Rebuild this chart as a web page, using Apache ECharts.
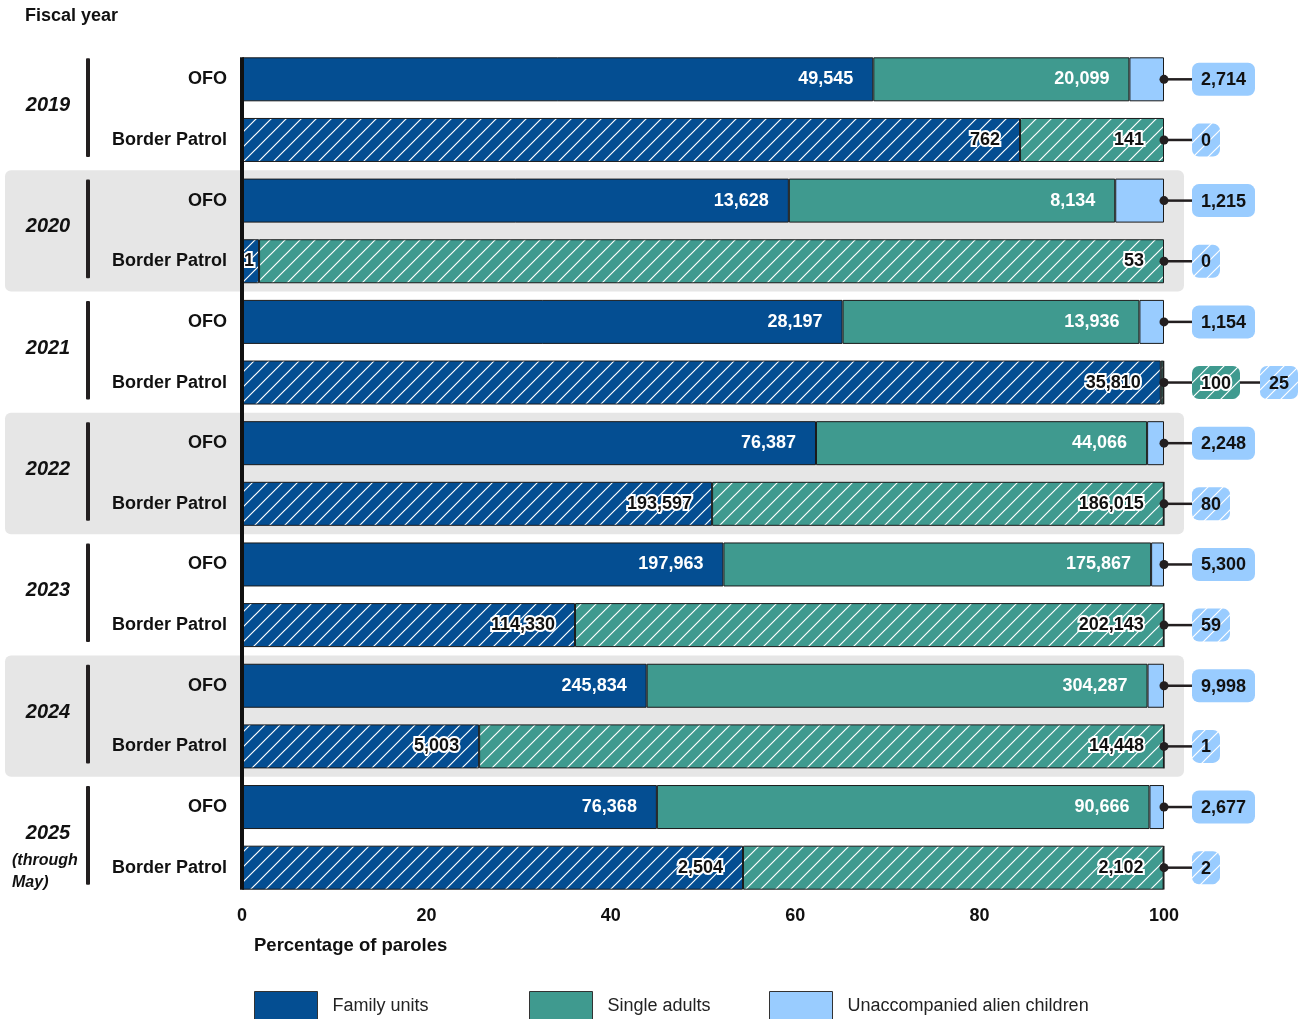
<!DOCTYPE html>
<html>
<head>
<meta charset="utf-8">
<title>Paroles by fiscal year</title>
<script src="https://cdn.jsdelivr.net/npm/echarts@6/dist/echarts.min.js"></script>
<style>
    html, body {margin: 0; padding: 0; background: #fff;}
    #main {width: 1310px; height: 1019px;}
</style>
</head>
<body>
<div id="main"></div>
<script>
    // chart values
    var years = ['2019', '2020', '2021', '2022', '2023', '2024', '2025'];
    var components = ['OFO', 'Border Patrol'];
    var shadedYears = ['2020', '2022', '2024'];
    var xTicks = [0, 20, 40, 60, 80, 100];

    var familyOFO = [49545, 13628, 28197, 76387, 197963, 245834, 76368];
    var singleOFO = [20099, 8134, 13936, 44066, 175867, 304287, 90666];
    var uacOFO = [2714, 1215, 1154, 2248, 5300, 9998, 2677];

    var familyBP = [762, 1, 35810, 193597, 114330, 5003, 2504];
    var singleBP = [141, 53, 100, 186015, 202143, 14448, 2102];
    var uacBP = [0, 0, 25, 80, 59, 1, 2];

    var FONT = '"Liberation Sans", Arial, sans-serif';
    var C_FAMILY = '#044e92';
    var C_SINGLE = '#3f9a8f';
    var C_UAC = '#99ccff';
    var INK = '#231f20';

    /** diagonal white hatch on a base colour */
    function hatch(base) {
        var s = 15;
        var c = document.createElement('canvas');
        c.width = s;
        c.height = s;
        var ctx = c.getContext('2d');
        ctx.fillStyle = base;
        ctx.fillRect(0, 0, s, s);
        ctx.strokeStyle = '#ffffff';
        ctx.lineWidth = 1.2;
        ctx.beginPath();
        ctx.moveTo(-1, s + 1); ctx.lineTo(s + 1, -1);
        ctx.moveTo(-1, 1); ctx.lineTo(1, -1);
        ctx.moveTo(s - 1, s + 1); ctx.lineTo(s + 1, s - 1);
        ctx.stroke();
        return {image: c, repeat: 'repeat'};
    }

    var measureCtx = document.createElement('canvas').getContext('2d');
    function textWidth(str) {
        measureCtx.font = 'bold 18px ' + FONT;
        return measureCtx.measureText(str).width;
    }

    function fmt(n) {
        return echarts.format.addCommas(n);
    }

    function merge(a, b) {
        return echarts.util.merge(echarts.util.clone(a), b, true);
    }

    // one row per component per year
    var rows = [];
    var categories = [];
    years.forEach(function (y, i) {
        rows.push({year: y, family: familyOFO[i], single: singleOFO[i], uac: uacOFO[i], hatched: false});
        rows.push({year: y, family: familyBP[i], single: singleBP[i], uac: uacBP[i], hatched: true});
        categories.push(components[0], components[1]);
    });
    rows.forEach(function (r) {
        r.total = r.family + r.single + r.uac;
    });

    function labelFor(row, share) {
        var l = row.hatched
            ? {color: '#111', textBorderColor: '#fff', textBorderWidth: 4}
            : {color: '#fff', textBorderWidth: 0};
        if (share < 1) {
            l.show = false;
        } else if (share < 5) {
            l.position = 'insideLeft';
            l.distance = 2;
        }
        return l;
    }

    var patFamily = hatch(C_FAMILY), patSingle = hatch(C_SINGLE), patUac = hatch(C_UAC);

    var familyData = rows.map(function (r) {
        var share = r.family / r.total * 100;
        return {value: share, count: r.family, label: labelFor(r, share),
            itemStyle: r.hatched ? {color: patFamily} : {}};
    });
    var singleData = rows.map(function (r) {
        var share = r.single / r.total * 100;
        return {value: share, count: r.single, label: labelFor(r, share),
            itemStyle: r.hatched ? {color: patSingle} : {}};
    });
    var uacData = rows.map(function (r) {
        if (!r.uac) {
            return '-';
        }
        return {value: r.uac / r.total * 100, count: r.uac,
            itemStyle: r.hatched ? {color: patUac} : {}};
    });

    // right-hand boxes
    rows.forEach(function (r) {
        r.boxes = [];
        if (r.single / r.total * 100 < 1) {
            r.boxes.push({text: fmt(r.single), fill: r.hatched ? patSingle : C_SINGLE, halo: true});
        }
        r.boxes.push({text: fmt(r.uac), fill: r.hatched ? patUac : C_UAC, halo: false});
    });

    function renderBoxes(params, api) {
        var row = rows[params.dataIndex];
        var p = api.coord([100, params.dataIndex]);
        var x = p[0], y = p[1];
        var lines = [], boxes = [];
        var cursor = x;
        row.boxes.forEach(function (b, k) {
            var bx = cursor + (k === 0 ? 28 : 20);
            var w = Math.round(textWidth(b.text) + 18);
            lines.push({
                type: 'line',
                shape: {x1: cursor, y1: y, x2: bx, y2: y},
                style: {stroke: INK, lineWidth: 2.5}
            });
            boxes.push({
                type: 'rect',
                shape: {x: bx, y: y - 16.5, width: w, height: 33, r: 7},
                style: {fill: b.fill}
            });
            boxes.push({
                type: 'text',
                x: bx + w / 2,
                y: y + 1,
                style: {
                    text: b.text, font: 'bold 18px ' + FONT, fill: '#111',
                    align: 'center', verticalAlign: 'middle',
                    stroke: b.halo ? '#fff' : null, lineWidth: b.halo ? 4 : 0
                }
            });
            cursor = bx + w;
        });
        var dot = {type: 'circle', shape: {cx: x, cy: y, r: 4.5}, style: {fill: INK}};
        return {type: 'group', children: lines.concat(boxes, [dot])};
    }

    var barBase = {
        type: 'bar',
        stack: 'total',
        barWidth: 44,
        itemStyle: {borderColor: '#1a1a1a', borderWidth: 1},
        label: {
            show: true,
            position: 'insideRight',
            distance: 20,
            fontFamily: FONT,
            fontWeight: 'bold',
            fontSize: 18,
            formatter: function (p) {
                return fmt(p.data.count);
            }
        }
    };

    var legendBase = {
        top: 991, padding: 0, itemWidth: 63, itemHeight: 30, icon: 'rect', itemGap: 0,
        itemStyle: {borderColor: '#333', borderWidth: 1},
        textStyle: {fontFamily: FONT, fontSize: 18, color: '#222', padding: [0, 0, 0, 10]},
        selectedMode: false
    };

    var chart = echarts.init(document.getElementById('main'));
    var option = {
        animation: false,
        backgroundColor: '#fff',
        title: [
            {text: 'Fiscal year', left: 25, top: 7, padding: 0,
                textStyle: {fontFamily: FONT, fontSize: 18, fontWeight: 'bold', color: '#111'}},
            {text: 'Percentage of paroles', left: 254, top: 936, padding: 0,
                textStyle: {fontFamily: FONT, fontSize: 18.5, fontWeight: 'bold', color: '#111'}}
        ],
        legend: [
            merge(legendBase, {left: 254, data: ['Family units']}),
            merge(legendBase, {left: 529, data: ['Single adults']}),
            merge(legendBase, {left: 769, data: ['Unaccompanied alien children']})
        ],
        grid: {left: 242, right: 146, top: 49, bottom: 121, containLabel: false},
        xAxis: {
            type: 'value',
            min: xTicks[0],
            max: xTicks[xTicks.length - 1],
            interval: xTicks[1] - xTicks[0],
            axisLine: {show: false},
            axisTick: {show: false},
            splitLine: {show: false},
            axisLabel: {fontFamily: FONT, fontSize: 18, fontWeight: 'bold', color: '#111', margin: 9}
        },
        yAxis: {
            type: 'category',
            data: categories,
            inverse: true,
            axisLine: {show: false},
            axisTick: {show: false},
            axisLabel: {fontFamily: FONT, fontSize: 18, fontWeight: 'bold', color: '#111', margin: 15}
        },
        color: [C_FAMILY, C_SINGLE, C_UAC],
        series: [
            merge(barBase, {name: 'Family units', data: familyData}),
            merge(barBase, {name: 'Single adults', data: singleData}),
            merge(barBase, {name: 'Unaccompanied alien children', data: uacData, label: {show: false}}),
            {
                type: 'custom',
                name: 'boxes',
                clip: false,
                z: 5,
                renderItem: renderBoxes,
                encode: {x: 0, y: 1},
                data: rows.map(function (r, i) {
                    return [100, i];
                })
            }
        ]
    };
    chart.setOption(option);

    // year bands, brackets, year labels and the zero line
    var graphics = [];
    var firstY = chart.convertToPixel({yAxisIndex: 0}, 0);
    var lastY = chart.convertToPixel({yAxisIndex: 0}, rows.length - 1);
    var zeroX = chart.convertToPixel({xAxisIndex: 0}, 0);
    graphics.push({
        type: 'rect', z: 10,
        shape: {x: zeroX - 2, y: firstY - 22, width: 4, height: lastY - firstY + 44},
        style: {fill: '#111'}
    });
    years.forEach(function (y, i) {
        var top = chart.convertToPixel({yAxisIndex: 0}, 2 * i);
        var bottom = chart.convertToPixel({yAxisIndex: 0}, 2 * i + 1);
        var half = (bottom - top) / 2;
        var mid = (top + bottom) / 2;
        if (shadedYears.indexOf(y) >= 0) {
            graphics.push({
                type: 'rect', z: -10,
                shape: {x: 5, y: top - half, width: 1179, height: 4 * half, r: 6},
                style: {fill: '#e6e6e6'}
            });
        }
        graphics.push({
            type: 'rect', z: 10,
            shape: {x: 86, y: top - 21, width: 4, height: bottom - top + 38, r: 1},
            style: {fill: INK}
        });
        graphics.push({
            type: 'text', z: 10, x: 48, y: mid - 4,
            style: {text: y, font: 'italic bold 20px ' + FONT, fill: '#111',
                textAlign: 'center', textVerticalAlign: 'middle'}
        });
        if (i === years.length - 1) {
            graphics.push({
                type: 'text', z: 10, x: 12, y: mid + 23,
                style: {text: '(through', font: 'italic bold 16px ' + FONT, fill: '#111',
                    textAlign: 'left', textVerticalAlign: 'middle'}
            });
            graphics.push({
                type: 'text', z: 10, x: 12, y: mid + 45,
                style: {text: 'May)', font: 'italic bold 16px ' + FONT, fill: '#111',
                    textAlign: 'left', textVerticalAlign: 'middle'}
            });
        }
    });
    chart.setOption({graphic: graphics});
</script>
</body>
</html>
